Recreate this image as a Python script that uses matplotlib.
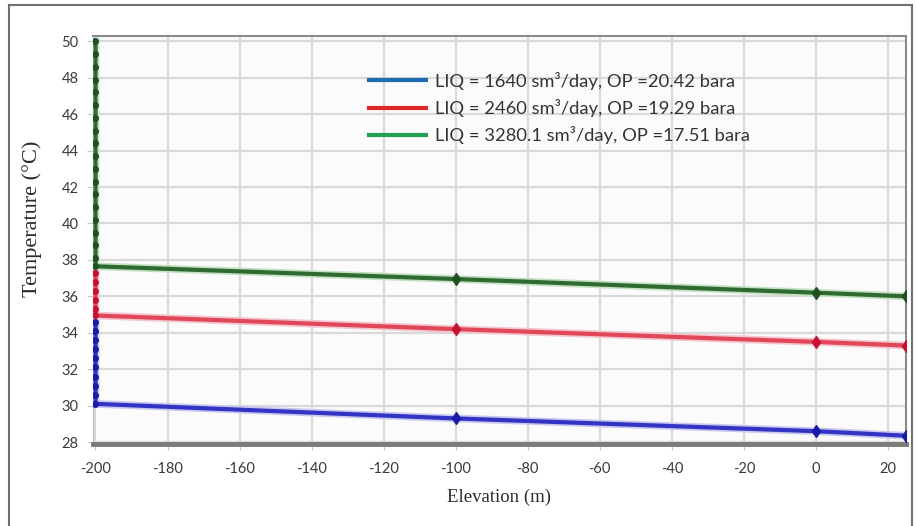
import matplotlib.pyplot as plt
import matplotlib.patheffects as pe
from matplotlib.lines import Line2D
from matplotlib.ticker import MultipleLocator
import numpy as np


# ---------------- Data ----------------

# Temperature profiles along the line (vertical section at -200 m, then horizontal run)
blueElevation = [-200, -200, -200, -200, -200, -200, -200, -200, -200, -200, -100, 0, 25]
blueTemperature = [34.6, 34.1, 33.6, 33.1, 32.6, 32.1, 31.6, 31.1, 30.6, 30.1, 29.3, 28.6, 28.35]

redElevation = [-200, -200, -200, -200, -200, -200, -100, 0, 25]
redTemperature = [37.3, 36.8, 36.3, 35.8, 35.3, 34.95, 34.2, 33.5, 33.3]

greenElevation = [-200] * 19 + [-100, 0, 25]
greenTemperature = [50.0, 49.3, 48.6, 47.9, 47.2, 46.5, 45.8, 45.1, 44.4, 43.7,
                    43.0, 42.3, 41.6, 40.9, 40.2, 39.5, 38.8, 38.1, 37.65,
                    36.95, 36.2, 36.0]

seriesLabels = ["LIQ = 1640 sm³/day, OP =20.42 bara",
                "LIQ = 2460 sm³/day, OP =19.29 bara",
                "LIQ = 3280.1 sm³/day, OP =17.51 bara"]

lineColors = ["#3333c4", "#e0485a", "#2f6b30"]
markerColors = ["#1a1aa8", "#c81030", "#1f5020"]
glowColors = ["#c8c8f0", "#f6c4cc", "#c4e0c4"]
legendColors = ["#1f6cb0", "#e02828", "#22a052"]


# ---------------- Plot ----------------

plt.rcParams['axes.unicode_minus'] = False

fig = plt.figure(figsize=(9.17, 5.26), dpi=100)
ax = fig.add_axes([0.101, 0.156, 0.887, 0.776])
ax.set_facecolor("#fbfbfb")

allSeries = [(blueElevation, blueTemperature),
             (redElevation, redTemperature),
             (greenElevation, greenTemperature)]

for i, (xs, ys) in enumerate(allSeries):
    ax.plot(xs, ys, color=lineColors[i], lw=3.0, zorder=3,
            path_effects=[pe.Stroke(linewidth=5.5, foreground=glowColors[i]), pe.Normal()])
    # dots along the vertical part
    vert = [j for j, x in enumerate(xs) if x == -200]
    ax.plot([xs[j] for j in vert], [ys[j] for j in vert], ls="none", marker="o",
            ms=4, color=markerColors[i], zorder=4)
    # markers on the horizontal part
    hor = [j for j, x in enumerate(xs) if x != -200]
    ax.plot([xs[j] for j in hor], [ys[j] for j in hor], ls="none", marker="d",
            ms=6.5, color=markerColors[i], zorder=4)

ax.set_xlim(-200.8, 25)
ax.set_ylim(27.9, 50.3)
ax.xaxis.set_major_locator(MultipleLocator(20))
ax.yaxis.set_major_locator(MultipleLocator(2))

ax.grid(True, color="#d9d9d9", lw=1.6, zorder=0)
ax.set_axisbelow(True)

ax.tick_params(axis="both", colors="#c8c8c8", labelcolor="#3a3a3a", labelsize=10.5, length=4)
ax.tick_params(axis="x", pad=9)
ax.tick_params(axis="y", pad=6)
for lab in ax.get_xticklabels() + ax.get_yticklabels():
    lab.set_family("Lato")

ax.spines["top"].set_color("#8a8a8a")
ax.spines["right"].set_color("#8a8a8a")
ax.spines["top"].set_linewidth(1.5)
ax.spines["right"].set_linewidth(1.5)
ax.spines["bottom"].set_color("#7a7a7a")
ax.spines["bottom"].set_linewidth(3.5)
ax.spines["left"].set_color("#c0c0c0")

ax.set_xlabel("Elevation (m)", family="Liberation Serif", fontsize=13.5, color="#2a2a2a", labelpad=9)
ax.set_ylabel("Temperature (°C)", family="Liberation Serif", fontsize=16, color="#2a2a2a")
ax.yaxis.set_label_coords(-0.062, 0.551)

# legend uses its own (lighter) colours
handles = [Line2D([0], [0], color=c, lw=3) for c in legendColors]
ax.legend(handles, seriesLabels, loc="upper left", bbox_to_anchor=(0.32, 0.952),
          frameon=False, prop={"family": "Lato", "size": 13.2}, handlelength=3.1,
          handletextpad=0.5, labelspacing=0.5, labelcolor="#333333")

# outer frame of the picture
fig.add_artist(Line2D([9 / 917, 9 / 917], [0, 1 - 5 / 526], transform=fig.transFigure,
                      color="#707070", lw=1.5))
fig.add_artist(Line2D([9 / 917, 912 / 917], [1 - 5 / 526, 1 - 5 / 526], transform=fig.transFigure,
                      color="#707070", lw=1.5))
fig.add_artist(Line2D([912 / 917, 912 / 917], [0, 1 - 5 / 526], transform=fig.transFigure,
                      color="#707070", lw=1.5))

fig.savefig("out.png", dpi=100)
